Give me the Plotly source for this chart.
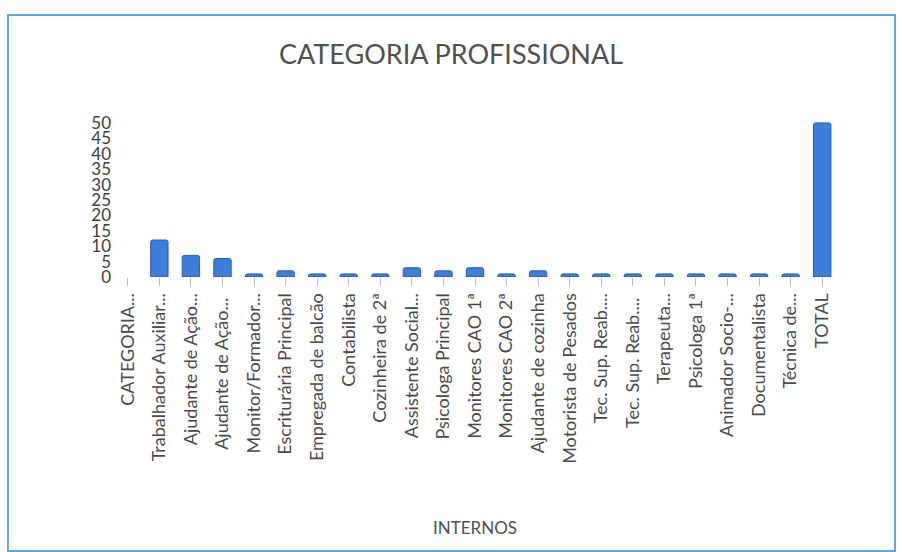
import plotly.graph_objects as go

# Staff counts per professional category (internal staff)
categories = [
    "CATEGORIA...", "Trabalhador Auxiliar...", "Ajudante de Ação...", "Ajudante de Ação... ",
    "Monitor/Formador...", "Escriturária Principal", "Empregada de balcão", "Contabilista",
    "Cozinheira de 2ª", "Assistente Social...", "Psicologa Principal", "Monitores CAO 1ª",
    "Monitores CAO 2ª", "Ajudante de cozinha", "Motorista de Pesados", "Tec. Sup. Reab....",
    "Tec. Sup. Reab.... ", "Terapeuta...", "Psicologa 1ª", "Animador Socio-...",
    "Documentalista", "Técnica de...", "TOTAL",
]
internos = [None, 12, 7, 6, 1, 2, 1, 1, 1, 3, 2, 3, 1, 2, 1, 1, 1, 1, 1, 1, 1, 1, 50]
y_ticks = [0, 5, 10, 15, 20, 25, 30, 35, 40, 45, 50]

W, H = 902, 552
L, R, T, B = 112, 64, 122, 275
pw, ph = W - L - R, H - T - B

def px_x(x):
    return (x - L) / pw

def px_y(y):
    return (H - B - y) / ph

fig = go.Figure(
    go.Bar(
        x=categories,
        y=internos,
        width=0.55,
        marker=dict(color="#3d7ddc", line=dict(color="#2a5cb0", width=1), cornerradius=2),
    )
)

fig.update_layout(
    width=W, height=H,
    margin=dict(l=L, r=R, t=T, b=B, autoexpand=False),
    paper_bgcolor="white", plot_bgcolor="white",
    showlegend=False,
    font=dict(family="Lato, Open Sans, sans-serif", color="#4a4a4a"),
    title=dict(text="CATEGORIA PROFISSIONAL", x=0.5, xanchor="center",
               y=1 - 55 / H, yanchor="middle",
               font=dict(size=27, color="#505050")),
    xaxis=dict(
        tickangle=-90, tickfont=dict(size=18, color="#4a4a4a"),
        ticks="outside", ticklen=8, tickcolor="#bbbbbb", showline=False,
        showgrid=False, automargin=False,
    ),
    yaxis=dict(
        range=[0, 50.3], tickvals=y_ticks, ticktext=[str(v) for v in y_ticks],
        tickfont=dict(size=17, color="#404040"), showgrid=False, zeroline=False,
        showline=False, ticks="", automargin=False,
    ),
)

# Axis title placed under the rotated category labels
fig.add_annotation(
    text="INTERNOS", xref="paper", yref="paper", x=0.5, y=px_y(527),
    xanchor="center", yanchor="middle", showarrow=False,
    font=dict(size=17, color="#505050"),
)

# Light-blue chart frame
fig.add_shape(
    type="rect", xref="paper", yref="paper",
    x0=px_x(8), x1=px_x(895), y0=px_y(551), y1=px_y(15),
    line=dict(color="#5fa8dc", width=2), fillcolor="rgba(0,0,0,0)", layer="below",
)

fig.write_html("out.html")
